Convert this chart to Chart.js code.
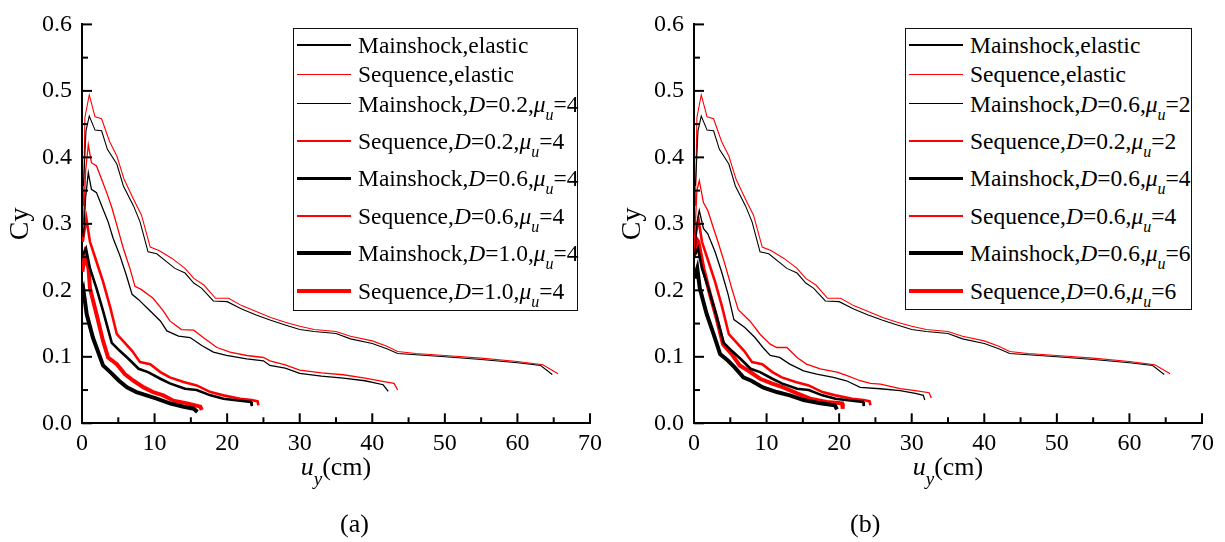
<!DOCTYPE html>
<html>
<head>
<meta charset="utf-8">
<script src="https://cdn.jsdelivr.net/npm/chart.js@4.4.1/dist/chart.umd.min.js"></script>
<style>
  html,body{margin:0;padding:0;background:#fff;}
  #wrap{position:relative;width:1225px;height:542px;background:#fff;overflow:hidden;font-family:"Liberation Serif","Times New Roman",Times,serif;color:#000;}
  .cv{position:absolute;top:0;}
  .legend{position:absolute;border:1px solid #111;box-sizing:border-box;background:#fff;}
  .row{position:absolute;white-space:nowrap;font-size:23.5px;line-height:26px;height:26px;}
  .smp{position:absolute;}
  .sub{font-size:16px;position:relative;top:8px;line-height:0;}
  .xt{position:absolute;font-size:26px;line-height:29px;white-space:nowrap;text-align:center;}
  .xt .s{font-size:19px;position:relative;top:10px;line-height:0;font-style:italic;}
  .pl{position:absolute;font-size:26px;line-height:29px;}
</style>
</head>
<body>
<div id="wrap">
  <canvas id="cA" class="cv" style="left:0" width="612" height="542"></canvas>
  <canvas id="cB" class="cv" style="left:612px" width="612" height="542"></canvas>
  <div id="legA" class="legend" style="left:293px;top:28px;width:285px;height:283px;"></div>
  <div id="legB" class="legend" style="left:905px;top:28px;width:287px;height:282px;"></div>
  <div class="xt" style="left:236px;top:452px;width:200px;"><i>u</i><span class="s">y</span>(cm)</div>
  <div class="xt" style="left:848px;top:452px;width:200px;"><i>u</i><span class="s">y</span>(cm)</div>
  <div class="pl" style="left:340px;top:509px;">(a)</div>
  <div class="pl" style="left:850px;top:509px;">(b)</div>
</div>
<script>
// ---------------- data ----------------
const xTicks = [0, 10, 20, 30, 40, 50, 60, 70];
const yTicks = [0.0, 0.1, 0.2, 0.3, 0.4, 0.5, 0.6];

// elastic spectra (same in both panels)
const mainElasticX = [0.2, 0.55, 1.0, 1.8, 2.7, 3.5, 4.8, 5.7, 7.1, 8.0, 9.1, 10.3, 12.8, 14.2, 15.4, 16.5, 18.1, 20.0, 22, 24, 26, 28, 30, 32, 35, 37, 40, 42, 43.5, 46, 50, 55, 60, 63.2, 64.8];
const mainElasticY = [0.357, 0.44, 0.462, 0.441, 0.44, 0.412, 0.39, 0.357, 0.327, 0.303, 0.258, 0.255, 0.233, 0.226, 0.211, 0.203, 0.184, 0.183, 0.172, 0.163, 0.155, 0.148, 0.141, 0.138, 0.135, 0.127, 0.12, 0.112, 0.105, 0.103, 0.1, 0.096, 0.091, 0.087, 0.0734];
const seqElasticX = [0.2, 0.4, 1.0, 1.8, 2.7, 3.8, 4.8, 5.8, 7.1, 8.2, 9.4, 10.6, 12.4, 14.2, 15.4, 16.8, 18.4, 20.2, 22, 24, 26, 28, 30, 32, 35, 37, 40, 42, 43.5, 46, 50, 55, 60, 63.5, 65.6];
const seqElasticY = [0.327, 0.46, 0.494, 0.461, 0.458, 0.424, 0.402, 0.367, 0.337, 0.313, 0.265, 0.26, 0.248, 0.233, 0.218, 0.208, 0.188, 0.188, 0.177, 0.168, 0.159, 0.152, 0.146, 0.141, 0.138, 0.131, 0.124, 0.116, 0.108, 0.105, 0.102, 0.098, 0.093, 0.088, 0.0744];

// panel (a): mu = 4, varying D
const mainD02X = [0.2, 0.5, 0.87, 1.3, 2.0, 2.9, 3.6, 4.3, 5.2, 6.1, 6.9, 7.8, 9.4, 10.8, 11.7, 13.3, 14.9, 16.5, 18.1, 19.9, 22.7, 25, 25.9, 28, 30, 33, 36, 39, 41.5, 42.2];
const mainD02Y = [0.28, 0.34, 0.377, 0.352, 0.347, 0.322, 0.303, 0.278, 0.253, 0.223, 0.194, 0.186, 0.169, 0.154, 0.139, 0.131, 0.129, 0.117, 0.107, 0.102, 0.097, 0.094, 0.087, 0.083, 0.075, 0.071, 0.068, 0.064, 0.058, 0.048];
const seqD02X = [0.2, 0.5, 0.87, 1.3, 2.0, 2.7, 3.4, 4.1, 4.8, 5.7, 6.6, 7.3, 8.2, 9.8, 11.2, 12.1, 13.7, 15.4, 16.7, 18.6, 20.4, 22.7, 25, 25.9, 28, 30, 33, 36, 39, 42, 43, 43.5];
const seqD02Y = [0.3, 0.38, 0.419, 0.392, 0.387, 0.367, 0.347, 0.325, 0.298, 0.263, 0.233, 0.206, 0.201, 0.188, 0.169, 0.154, 0.141, 0.14, 0.129, 0.114, 0.107, 0.102, 0.099, 0.094, 0.088, 0.08, 0.076, 0.073, 0.068, 0.062, 0.06, 0.05];
const mainD06X = [0.1, 0.55, 1.1, 2.0, 2.9, 4.1, 5.2, 6.4, 7.8, 9.1, 10.8, 12.1, 14.2, 15.8, 17.7, 19.5, 21.8, 23.3, 23.4];
const mainD06Y = [0.253, 0.263, 0.233, 0.203, 0.169, 0.121, 0.109, 0.097, 0.082, 0.077, 0.067, 0.06, 0.052, 0.05, 0.042, 0.037, 0.034, 0.032, 0.026];
const seqD06X = [0.1, 0.6, 1.1, 2.0, 2.9, 3.9, 4.8, 5.9, 6.9, 8.0, 9.4, 10.8, 12.1, 14.0, 15.8, 17.7, 19.5, 21.8, 23.4, 24.2, 24.3];
const seqD06Y = [0.273, 0.308, 0.273, 0.243, 0.213, 0.174, 0.134, 0.121, 0.109, 0.092, 0.089, 0.077, 0.069, 0.062, 0.057, 0.047, 0.042, 0.037, 0.035, 0.033, 0.027];
const mainD10X = [0.05, 0.2, 0.65, 1.5, 2.9, 3.9, 5.1, 6.2, 7.5, 8.9, 10.3, 12.1, 14.0, 15.4, 15.9];
const mainD10Y = [0.194, 0.2, 0.164, 0.129, 0.087, 0.077, 0.064, 0.054, 0.047, 0.042, 0.037, 0.03, 0.025, 0.022, 0.017];
const seqD10X = [0.05, 0.4, 0.9, 1.1, 2.0, 2.9, 3.6, 4.8, 5.9, 7.1, 8.5, 9.8, 11.2, 12.6, 14.5, 16.3, 16.5];
const seqD10Y = [0.228, 0.253, 0.233, 0.203, 0.164, 0.124, 0.099, 0.089, 0.074, 0.064, 0.054, 0.047, 0.042, 0.034, 0.03, 0.025, 0.02];

// panel (b): D = 0.6, varying mu
const mainMu2X = [0.1, 0.4, 0.73, 1.3, 1.9, 2.9, 3.8, 4.7, 5.5, 7.0, 8.4, 9.5, 10.5, 11.8, 13.2, 15.1, 16.9, 19.2, 21.0, 22.9, 25.7, 28.4, 30.5, 31.6, 31.8];
const mainMu2Y = [0.25, 0.3, 0.32, 0.293, 0.285, 0.258, 0.228, 0.194, 0.156, 0.144, 0.129, 0.114, 0.102, 0.099, 0.089, 0.079, 0.074, 0.069, 0.064, 0.054, 0.052, 0.049, 0.045, 0.042, 0.035];
const seqMu2X = [0.1, 0.4, 0.73, 1.3, 1.9, 2.7, 3.3, 4.3, 5.2, 6.1, 7.7, 9.1, 10.5, 11.4, 12.8, 14.2, 15.5, 17.4, 19.7, 21.0, 22.9, 24.3, 25.7, 28.4, 30.5, 32.4, 32.7];
const seqMu2Y = [0.28, 0.35, 0.365, 0.332, 0.32, 0.293, 0.273, 0.238, 0.203, 0.171, 0.154, 0.134, 0.119, 0.114, 0.114, 0.099, 0.089, 0.082, 0.077, 0.072, 0.064, 0.06, 0.059, 0.052, 0.049, 0.046, 0.038];
const mainMu6X = [0.05, 0.45, 0.8, 1.75, 2.7, 3.6, 4.7, 5.6, 6.8, 7.9, 9.5, 11.4, 13.2, 15.1, 17.4, 19.4, 19.7];
const mainMu6Y = [0.218, 0.233, 0.203, 0.164, 0.134, 0.104, 0.094, 0.084, 0.069, 0.064, 0.054, 0.047, 0.042, 0.035, 0.03, 0.027, 0.021];
const seqMu6X = [0.05, 0.3, 0.6, 1.3, 2.2, 3.1, 4.0, 5.2, 6.3, 7.5, 9.1, 10.7, 12.3, 14.2, 16.0, 18.3, 20.4, 20.5];
const seqMu6Y = [0.253, 0.278, 0.273, 0.233, 0.194, 0.159, 0.119, 0.104, 0.087, 0.079, 0.067, 0.06, 0.054, 0.045, 0.037, 0.032, 0.03, 0.022];

const labelsA = ['Mainshock,elastic', 'Sequence,elastic', 'Mainshock,D=0.2,μu=4', 'Sequence,D=0.2,μu=4',
                 'Mainshock,D=0.6,μu=4', 'Sequence,D=0.6,μu=4', 'Mainshock,D=1.0,μu=4', 'Sequence,D=1.0,μu=4'];
const labelsB = ['Mainshock,elastic', 'Sequence,elastic', 'Mainshock,D=0.6,μu=2', 'Sequence,D=0.2,μu=2',
                 'Mainshock,D=0.6,μu=4', 'Sequence,D=0.6,μu=4', 'Mainshock,D=0.6,μu=6', 'Sequence,D=0.6,μu=6'];

// ---------------- styling / build ----------------
const FONT = '"Liberation Serif","Times New Roman",Times,serif';
const RED = '#ff0000', BLK = '#000000';
const widths = [1.1, 1.1, 1.3, 1.3, 2.6, 2.6, 4, 4];
const colors = [BLK, RED, BLK, RED, BLK, RED, BLK, RED];

const seriesA = [[mainElasticX, mainElasticY], [seqElasticX, seqElasticY], [mainD02X, mainD02Y], [seqD02X, seqD02Y],
                 [mainD06X, mainD06Y], [seqD06X, seqD06Y], [mainD10X, mainD10Y], [seqD10X, seqD10Y]];
const seriesB = [[mainElasticX, mainElasticY], [seqElasticX, seqElasticY], [mainMu2X, mainMu2Y], [seqMu2X, seqMu2Y],
                 [mainD06X, mainD06Y], [seqD06X, seqD06Y], [mainMu6X, mainMu6Y], [seqMu6X, seqMu6Y]];

const inTicks = {
  id: 'inTicks',
  afterDatasetsDraw(chart) {
    const {ctx, scales: {x, y}, chartArea: a} = chart;
    ctx.save();
    ctx.strokeStyle = '#000';
    ctx.lineWidth = 2;
    const seg = (x1, y1, x2, y2) => { ctx.beginPath(); ctx.moveTo(x1, y1); ctx.lineTo(x2, y2); ctx.stroke(); };
    const xv = x.ticks.map(t => t.value);
    xv.forEach((v, i) => {
      const p = x.getPixelForValue(v);
      seg(p, a.bottom, p, a.bottom - 10);
      if (i < xv.length - 1) {
        const m = x.getPixelForValue((v + xv[i + 1]) / 2);
        seg(m, a.bottom, m, a.bottom - 6);
      }
    });
    const yv = y.ticks.map(t => t.value);
    yv.forEach((v, i) => {
      const p = y.getPixelForValue(v);
      seg(a.left, p, a.left + 10, p);
      if (i < yv.length - 1) {
        const m = y.getPixelForValue((v + yv[i + 1]) / 2);
        seg(a.left, m, a.left + 6, m);
      }
    });
    ctx.restore();
  }
};

function makeChart(id, series, labels) {
  const datasets = series.map((s, i) => ({
    label: labels[i],
    data: s[0].map((v, k) => ({x: v, y: s[1][k]})),
    borderColor: colors[i],
    backgroundColor: colors[i],
    borderWidth: widths[i],
    pointRadius: 0,
    fill: false,
    tension: 0,
    borderJoinStyle: 'miter',
    borderCapStyle: 'butt'
  }));
  return new Chart(document.getElementById(id), {
    type: 'line',
    data: {datasets},
    plugins: [inTicks],
    options: {
      responsive: false,
      animation: false,
      devicePixelRatio: 1,
      layout: {padding: {top: 20.7, right: 22, left: 0, bottom: 0}},
      plugins: {legend: {display: false}, tooltip: {enabled: false}},
      scales: {
        x: {
          type: 'linear', min: xTicks[0], max: xTicks[xTicks.length - 1],
          afterBuildTicks: s => { s.ticks = xTicks.map(v => ({value: v})); },
          ticks: {font: {family: FONT, size: 24}, color: '#000', padding: 6, maxRotation: 0, autoSkip: false,
                  callback: v => String(v)},
          grid: {display: true, drawOnChartArea: false, drawTicks: false},
          border: {display: true, color: '#000', width: 2},
          afterFit: s => { s.height = 118.7; }
        },
        y: {
          type: 'linear', min: yTicks[0], max: yTicks[yTicks.length - 1],
          afterBuildTicks: s => { s.ticks = yTicks.map(v => ({value: v})); },
          ticks: {font: {family: FONT, size: 24}, color: '#000', padding: 10, autoSkip: false,
                  callback: v => Number(v).toFixed(1)},
          title: {display: true, text: 'Cy', font: {family: FONT, size: 28}, color: '#000', padding: {top: 4, bottom: 0}},
          grid: {display: true, drawOnChartArea: false, drawTicks: false},
          border: {display: true, color: '#000', width: 2},
          afterFit: s => { s.width = 82; }
        }
      }
    }
  });
}

function fmtLabel(t) {
  const esc = t.replace(/&/g, '&amp;').replace(/</g, '&lt;');
  return esc.replace('D=', '<i>D</i>=').replace('μu', '<i>μ</i><span class="sub"><i>u</i></span>');
}

function buildLegend(elId, chart) {
  const el = document.getElementById(elId);
  let c = 16;
  chart.data.datasets.forEach((d, i) => {
    const smp = document.createElement('div');
    smp.className = 'smp';
    smp.style.left = '3px';
    smp.style.width = '54px';
    smp.style.height = d.borderWidth + 'px';
    smp.style.top = (c - d.borderWidth / 2) + 'px';
    smp.style.background = d.borderColor;
    el.appendChild(smp);
    const row = document.createElement('div');
    row.className = 'row';
    row.style.left = '64px';
    row.style.top = (c - 13) + 'px';
    row.innerHTML = fmtLabel(d.label);
    el.appendChild(row);
    c += d.label.indexOf('μ') >= 0 ? 37.4 : 29.3;
  });
}

const chA = makeChart('cA', seriesA, labelsA);
const chB = makeChart('cB', seriesB, labelsB);
buildLegend('legA', chA);
buildLegend('legB', chB);
</script>
</body>
</html>
